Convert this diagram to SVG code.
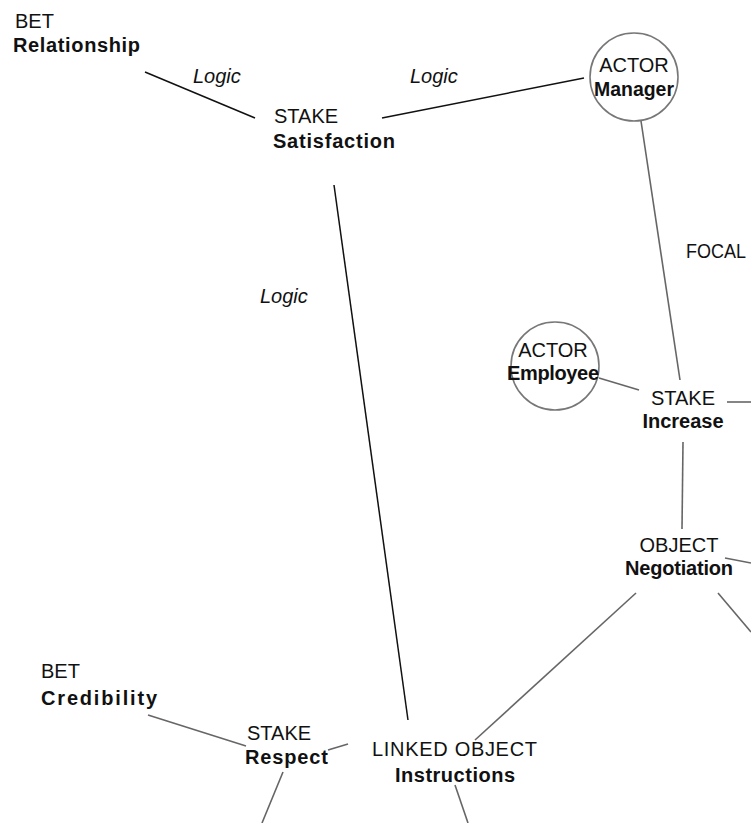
<svg xmlns="http://www.w3.org/2000/svg" width="751" height="823" viewBox="0 0 751 823">
<style>
text{font-family:"Liberation Sans",Arial,sans-serif;font-size:20px;fill:#111}
.b{font-weight:bold}
.i{font-style:italic}
.dark{stroke:#111;stroke-width:1.5;fill:none}
.gray{stroke:#666;stroke-width:1.6;fill:none}
.circ{stroke:#777;stroke-width:1.6;fill:#fff}
</style>
<rect width="751" height="823" fill="#fff"/>
<g id="connectors">
<line class="dark" x1="145" y1="72" x2="255" y2="118"/>
<line class="dark" x1="382" y1="118" x2="584" y2="78"/>
<line class="dark" x1="334" y1="185" x2="408" y2="720"/>
<line class="gray" x1="641" y1="121" x2="680" y2="380"/>
<line class="gray" x1="599" y1="378" x2="639" y2="390"/>
<line class="gray" x1="727" y1="402" x2="751" y2="402"/>
<line class="gray" x1="683" y1="442" x2="682" y2="529"/>
<line class="gray" x1="725" y1="558" x2="751" y2="563"/>
<line class="gray" x1="636" y1="593" x2="475" y2="740"/>
<line class="gray" x1="718" y1="593" x2="751" y2="632"/>
<line class="gray" x1="148" y1="715" x2="246" y2="746"/>
<line class="gray" x1="328" y1="750" x2="348" y2="744"/>
<line class="gray" x1="283" y1="772" x2="262" y2="823"/>
<line class="gray" x1="455" y1="785" x2="468" y2="823"/>
</g>
<g id="labels">
<text class="i" x="193" y="83">Logic</text>
<text class="i" x="410" y="83">Logic</text>
<text class="i" x="260" y="303">Logic</text>
<text x="686" y="258" textLength="60" lengthAdjust="spacingAndGlyphs">FOCAL</text>
</g>
<g id="bet-relationship">
<text x="15" y="28">BET</text>
<text class="b" x="13" y="52" textLength="127">Relationship</text>
</g>
<g id="stake-satisfaction">
<text x="274" y="123">STAKE</text>
<text class="b" x="273" y="148" textLength="122">Satisfaction</text>
</g>
<g id="actor-manager">
<circle class="circ" cx="634" cy="77" r="44"/>
<text x="634" y="72" text-anchor="middle">ACTOR</text>
<text class="b" x="634" y="96" text-anchor="middle" textLength="80" lengthAdjust="spacingAndGlyphs">Manager</text>
</g>
<g id="actor-employee">
<circle class="circ" cx="555" cy="366" r="44"/>
<text x="553" y="357" text-anchor="middle">ACTOR</text>
<text class="b" x="553" y="380" text-anchor="middle" textLength="92">Employee</text>
</g>
<g id="stake-increase">
<text x="683" y="405" text-anchor="middle">STAKE</text>
<text class="b" x="683" y="428" text-anchor="middle">Increase</text>
</g>
<g id="object-negotiation">
<text x="679" y="552" text-anchor="middle">OBJECT</text>
<text class="b" x="679" y="575" text-anchor="middle" textLength="108">Negotiation</text>
</g>
<g id="bet-credibility">
<text x="41" y="678">BET</text>
<text class="b" x="41" y="705" textLength="116">Credibility</text>
</g>
<g id="stake-respect">
<text x="247" y="740">STAKE</text>
<text class="b" x="245" y="764" textLength="83">Respect</text>
</g>
<g id="linked-object-instructions">
<text x="372" y="756" textLength="165">LINKED OBJECT</text>
<text class="b" x="395" y="782" textLength="120">Instructions</text>
</g>
</svg>
